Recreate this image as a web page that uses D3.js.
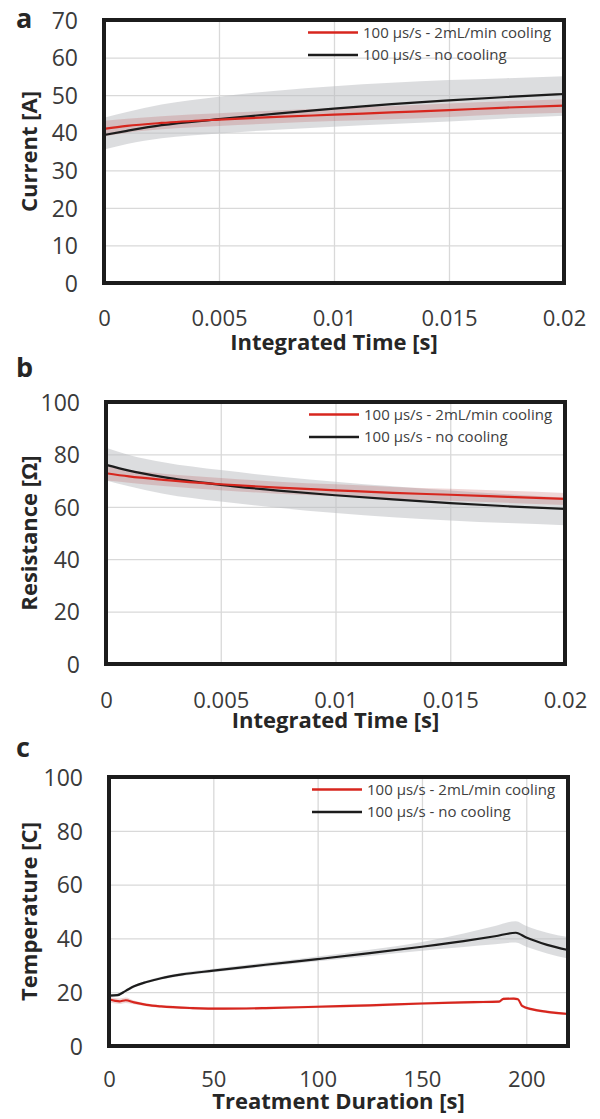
<!DOCTYPE html>
<html>
<head>
<meta charset="utf-8">
<script src="https://cdn.jsdelivr.net/npm/d3@7"></script>
<style>
  body { margin: 0; background: #fff; }
  svg { display: block; font-family: "Open Sans", sans-serif; }
</style>
</head>
<body>
<svg id="chart" width="600" height="1119"></svg>
<script>
// ---- data ----
const legendLabels = ["100 \u00b5s/s - 2mL/min cooling", "100 \u00b5s/s - no cooling"];

const ticksTime = [0, 0.005, 0.01, 0.015, 0.02];
const ticksCurrent = [0, 10, 20, 30, 40, 50, 60, 70];
const ticksResistance = [0, 20, 40, 60, 80, 100];
const ticksTemperature = [0, 20, 40, 60, 80, 100];
const ticksDuration = [0, 50, 100, 150, 200];

// panel a - current
const timeA = [0, 0.001, 0.0025, 0.005, 0.0075, 0.01, 0.0125, 0.015, 0.0175, 0.02];
const currentCool = [41.0, 41.8, 42.6, 43.5, 44.2, 44.8, 45.4, 46.0, 46.7, 47.2];
const currentCoolLow = [39.0, 40.0, 40.9, 41.8, 42.5, 43.1, 43.6, 44.2, 44.9, 45.3];
const currentCoolHigh = [43.2, 43.7, 44.4, 45.2, 45.9, 46.5, 47.1, 47.8, 48.4, 48.9];
const currentNoCool = [39.4, 40.5, 42.0, 43.6, 45.1, 46.4, 47.6, 48.6, 49.5, 50.3];
const currentNoCoolLow = [35.5, 37.0, 38.5, 39.8, 40.8, 41.6, 42.3, 43.0, 43.8, 44.5];
const currentNoCoolHigh = [44.0, 45.5, 47.5, 49.6, 51.2, 52.4, 53.3, 54.0, 54.5, 55.0];

// panel b - resistance
const resCool = [72.8, 71.6, 70.3, 68.6, 67.3, 66.3, 65.3, 64.6, 63.8, 63.0];
const resCoolLow = [70.0, 69.2, 67.9, 66.3, 65.0, 64.0, 63.0, 62.3, 61.5, 60.7];
const resCoolHigh = [75.5, 74.0, 72.6, 71.0, 69.6, 68.6, 67.6, 66.9, 66.1, 65.3];
const resNoCool = [76.0, 73.8, 71.3, 68.4, 66.2, 64.4, 62.8, 61.4, 60.2, 59.2];
const resNoCoolLow = [70.0, 67.8, 65.0, 62.0, 59.6, 57.6, 56.0, 54.8, 53.8, 53.0];
const resNoCoolHigh = [82.5, 79.8, 77.0, 74.0, 71.6, 69.6, 67.8, 66.2, 64.8, 63.5];

// panel c - temperature
const durCool = [0, 3, 5, 8, 12, 18, 25, 40, 55, 75, 100, 125, 150, 175, 187, 189, 194, 196, 198, 203, 210, 220];
const tempCool = [17.4, 16.8, 16.6, 17.0, 16.2, 15.3, 14.7, 14.1, 13.9, 14.1, 14.6, 15.1, 15.8, 16.3, 16.5, 17.5, 17.6, 17.4, 14.9, 13.6, 12.7, 11.9];
const tempCoolLow = [16.4, 15.8, 15.6, 16.0, 15.5, 14.8, 14.2, 13.6, 13.4, 13.6, 14.1, 14.6, 15.3, 15.8, 16.0, 17.0, 17.1, 16.9, 14.4, 13.1, 12.2, 11.4];
const tempCoolHigh = [18.3, 17.8, 17.7, 18.0, 16.9, 15.8, 15.2, 14.6, 14.4, 14.6, 15.1, 15.6, 16.3, 16.8, 17.0, 18.0, 18.1, 17.9, 15.4, 14.1, 13.2, 12.4];
const durNoCool = [0, 4, 8, 12, 18, 25, 35, 50, 75, 100, 125, 150, 170, 185, 195, 200, 210, 220];
const tempNoCool = [18.7, 18.9, 20.5, 22.2, 23.8, 25.2, 26.6, 28.0, 30.2, 32.3, 34.5, 36.9, 39.0, 40.8, 42.1, 40.3, 37.6, 35.7];
const tempNoCoolLow = [18.2, 18.4, 20.0, 21.7, 23.3, 24.7, 26.0, 27.4, 29.5, 31.5, 33.5, 35.4, 36.8, 37.8, 38.5, 36.9, 34.4, 32.5];
const tempNoCoolHigh = [19.2, 19.4, 21.0, 22.7, 24.3, 25.7, 27.2, 28.7, 31.0, 33.3, 35.8, 38.7, 41.8, 44.6, 46.4, 44.6, 42.1, 40.5];

const red = "#d7261e", black = "#1c1c1c";

const svg = d3.select("#chart");

function drawPanel(p) {
    let x = d3.scaleLinear().domain(p.xDomain).range([p.left, p.right]);
    let y = d3.scaleLinear().domain(p.yDomain).range([p.bottom, p.top]);
    let g = svg.append("g");

    // grid
    g.append("g")
        .attr("transform", "translate(0," + p.bottom + ")")
        .call(d3.axisBottom(x).tickValues(p.xTicks).tickSize(-(p.bottom - p.top)).tickFormat(""))
        .call(s => s.select(".domain").remove())
        .selectAll("line").attr("stroke", "#d9d9d9").attr("stroke-width", 1.3);
    g.append("g")
        .attr("transform", "translate(" + p.left + ",0)")
        .call(d3.axisLeft(y).tickValues(p.yTicks).tickSize(-(p.right - p.left)).tickFormat(""))
        .call(s => s.select(".domain").remove())
        .selectAll("line").attr("stroke", "#d9d9d9").attr("stroke-width", 1.3);

    // bands then lines
    let series = [
        {xs: p.xsNo, m: p.no, lo: p.noLow, hi: p.noHigh, color: black, band: "#b9bcbf", op: 0.5},
        {xs: p.xsCool, m: p.cool, lo: p.coolLow, hi: p.coolHigh, color: red, band: "#b8474a", op: 0.22}
    ];
    let area = d3.area()
        .x(d => x(d[0])).y0(d => y(d[1])).y1(d => y(d[2]))
        .curve(d3.curveMonotoneX);
    let line = d3.line()
        .x(d => x(d[0])).y(d => y(d[1]))
        .curve(d3.curveMonotoneX);

    series.forEach(s => {
        g.append("path")
            .datum(s.xs.map((t, i) => [t, s.lo[i], s.hi[i]]))
            .attr("fill", s.band).attr("fill-opacity", s.op)
            .attr("d", area);
    });
    series.forEach(s => {
        g.append("path")
            .datum(s.xs.map((t, i) => [t, s.m[i]]))
            .attr("fill", "none").attr("stroke", s.color)
            .attr("stroke-width", 2.2).attr("stroke-linejoin", "round")
            .attr("d", line);
    });

    // frame
    g.append("rect")
        .attr("x", p.left).attr("y", p.top)
        .attr("width", p.right - p.left).attr("height", p.bottom - p.top)
        .attr("fill", "none").attr("stroke", black).attr("stroke-width", 4);

    // tick labels
    let xa = g.append("g")
        .attr("transform", "translate(0," + p.bottom + ")")
        .call(d3.axisBottom(x).tickValues(p.xTicks).tickSize(0).tickFormat(d => String(d)));
    xa.select(".domain").remove();
    xa.selectAll("text")
        .attr("y", p.xTickOff).attr("dy", 0)
        .attr("fill", "#3a3a3a").style("font-size", "22px")
        .style("font-family", "'Open Sans', sans-serif");

    let ya = g.append("g")
        .attr("transform", "translate(" + p.left + ",0)")
        .call(d3.axisLeft(y).tickValues(p.yTicks).tickSize(0));
    ya.select(".domain").remove();
    ya.selectAll("text")
        .attr("x", -26).attr("dy", "0.36em")
        .attr("fill", "#3a3a3a").style("font-size", "23px")
        .style("font-family", "'Open Sans', sans-serif");

    // titles
    g.append("text")
        .attr("x", (p.left + p.right) / 2).attr("y", p.bottom + p.xTitleOff)
        .attr("text-anchor", "middle")
        .attr("font-size", 22).attr("font-weight", "bold").attr("fill", "#262626")
        .text(p.xTitle);
    g.append("text")
        .attr("transform", "translate(37," + (p.top + p.bottom) / 2 + ") rotate(-90)")
        .attr("text-anchor", "middle")
        .attr("font-size", 22).attr("font-weight", "bold").attr("fill", "#262626")
        .text(p.yTitle);
    g.append("text")
        .attr("x", 16).attr("y", p.letterY)
        .attr("font-size", 27).attr("font-weight", "bold").attr("fill", "#262626")
        .text(p.letter);

    // legend
    [red, black].forEach((c, i) => {
        let ly = p.top + 12.5 + i * 22.5;
        g.append("line")
            .attr("x1", p.right - 256).attr("x2", p.right - 206)
            .attr("y1", ly).attr("y2", ly)
            .attr("stroke", c).attr("stroke-width", 2.5);
        g.append("text")
            .attr("x", p.right - 201).attr("y", ly).attr("dy", "0.35em")
            .attr("font-size", 15).attr("fill", "#404040")
            .text(legendLabels[i]);
    });
}

drawPanel({
    letter: "a", letterY: 28,
    left: 104, right: 564, top: 20, bottom: 283,
    xDomain: [0, 0.02], yDomain: [0, 70], xTicks: ticksTime, yTicks: ticksCurrent,
    xTickOff: 43, xTitleOff: 67,
    xTitle: "Integrated Time [s]", yTitle: "Current [A]",
    xsCool: timeA, cool: currentCool, coolLow: currentCoolLow, coolHigh: currentCoolHigh,
    xsNo: timeA, no: currentNoCool, noLow: currentNoCoolLow, noHigh: currentNoCoolHigh
});

drawPanel({
    letter: "b", letterY: 377,
    left: 106, right: 565, top: 402, bottom: 664,
    xDomain: [0, 0.02], yDomain: [0, 100], xTicks: ticksTime, yTicks: ticksResistance,
    xTickOff: 44, xTitleOff: 64,
    xTitle: "Integrated Time [s]", yTitle: "Resistance [\u03a9]",
    xsCool: timeA, cool: resCool, coolLow: resCoolLow, coolHigh: resCoolHigh,
    xsNo: timeA, no: resNoCool, noLow: resNoCoolLow, noHigh: resNoCoolHigh
});

drawPanel({
    letter: "c", letterY: 757,
    left: 109, right: 568, top: 777, bottom: 1046,
    xDomain: [0, 220], yDomain: [0, 100], xTicks: ticksDuration, yTicks: ticksTemperature,
    xTickOff: 41, xTitleOff: 63,
    xTitle: "Treatment Duration [s]", yTitle: "Temperature [C]",
    xsCool: durCool, cool: tempCool, coolLow: tempCoolLow, coolHigh: tempCoolHigh,
    xsNo: durNoCool, no: tempNoCool, noLow: tempNoCoolLow, noHigh: tempNoCoolHigh
});
</script>
</body>
</html>
